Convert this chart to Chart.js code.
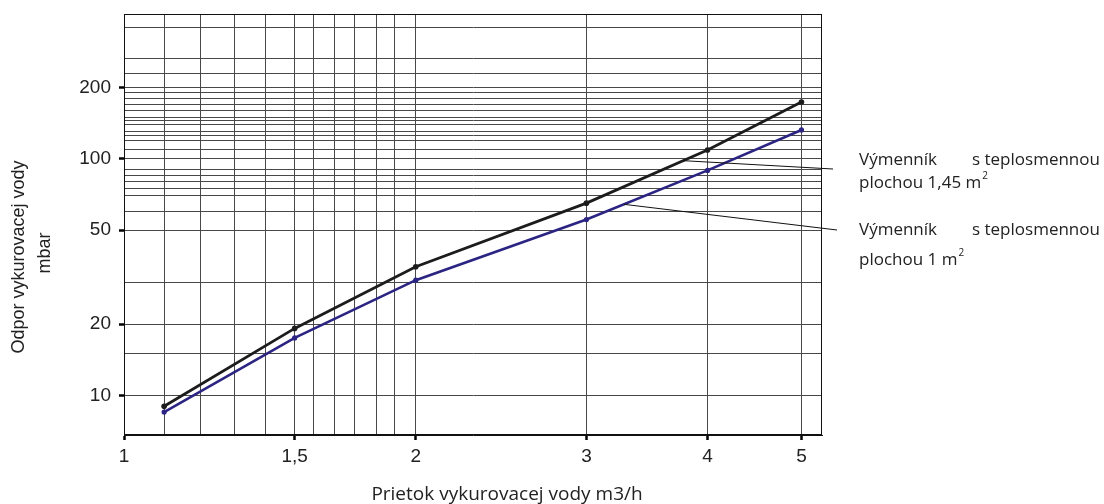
<!DOCTYPE html>
<html lang="sk">
<head>
<meta charset="utf-8">
<title>Odpor vykurovacej vody</title>
<script src="https://cdn.jsdelivr.net/npm/chart.js@4.4.1/dist/chart.umd.min.js"></script>
<style>
  html, body { margin: 0; padding: 0; background: #fff; }
  #wrap { width: 1104px; height: 504px; position: relative; }
</style>
</head>
<body>
<div id="wrap"><canvas id="chart"></canvas></div>
<script>
// flow of heating water (m3/h)
const flowRates = [1.1, 1.5, 2, 3, 4, 5];
// pressure drop (mbar) for the two exchangers
const dropLarge = [9.0, 19.2, 35, 65, 109, 174];        // 1,45 m2
const dropSmall = [8.5, 17.5, 30.7, 55.4, 89.4, 132.6]; // 1 m2

// axes
const xTickValues = [1, 1.5, 2, 3, 4, 5];
const xTickLabels = ['1', '1,5', '2', '3', '4', '5'];
const xGridValues = [1, 1.1, 1.2, 1.3, 1.4, 1.5, 1.57, 1.65, 1.73, 1.82, 1.9, 2, 3, 4, 5];
const yTickValues = [10, 20, 50, 100, 200];
const yTickLabels = ['10', '20', '50', '100', '200'];
const yGridValues = [10, 15, 20, 30, 50, 60, 70, 75, 80, 85, 90, 100, 110, 120, 125, 130,
                     140, 145, 150, 160, 170, 180, 190, 200, 230, 265, 360];

const seriesNames = ['Výmenník s teplosmennou plochou 1,45 m²', 'Výmenník s teplosmennou plochou 1 m²'];

document.addEventListener('DOMContentLoaded', () => {
    Chart.defaults.font.family = '"Liberation Sans", Arial, sans-serif';
    Chart.defaults.color = '#222';

    const toPoints = (ys) => flowRates.map((x, i) => ({ x: x, y: ys[i] }));

    // frame, leader lines and the free text around the plot
    const textPlugin = {
        id: 'textPlugin',
        beforeDatasetsDraw(chart) {
            const { ctx, chartArea } = chart;
            const l = Math.round(chartArea.left) + 0.5;
            const t = Math.round(chartArea.top) + 0.5;
            const r = Math.round(chartArea.right) - 0.5;
            const b = Math.round(chartArea.bottom) - 0.5;
            ctx.save();
            ctx.strokeStyle = '#111';
            ctx.lineWidth = 1;
            ctx.strokeRect(l, t, r - l, b - t);
            ctx.restore();
        },
        afterDraw(chart) {
            const ctx = chart.ctx;
            ctx.save();

            // leader lines from the curves to the notes
            const leader = (dsIndex, frac, ex, ey) => {
                const pts = chart.getDatasetMeta(dsIndex).data;
                const a = pts[3], b = pts[4];
                ctx.moveTo(a.x + (b.x - a.x) * frac, a.y + (b.y - a.y) * frac);
                ctx.lineTo(ex, ey);
            };
            ctx.beginPath();
            ctx.strokeStyle = '#111';
            ctx.lineWidth = 1;
            leader(0, 0.8, 833, 169);
            leader(1, 0.31, 837, 230);
            ctx.stroke();

            ctx.fillStyle = '#222';
            ctx.textBaseline = 'middle';

            const note = (y1, y2, area) => {
                ctx.font = '17px "Open Sans"';
                ctx.textAlign = 'left';
                ctx.fillText('Výmenník', 859, y1);
                ctx.fillText('s teplosmennou', 972, y1);
                const txt = 'plochou ' + area + ' m';
                ctx.fillText(txt, 859, y2);
                const w = ctx.measureText(txt).width;
                ctx.font = '10px "Open Sans"';
                ctx.fillText('2', 859 + w + 1, y2 - 7);
            };
            note(160, 183, '1,45');
            note(230, 260, '1');

            // axis titles
            ctx.font = '19px "Open Sans"';
            ctx.textAlign = 'center';
            ctx.fillText('Prietok vykurovacej vody m3/h', 507, 495);

            ctx.font = '18px "Liberation Sans"';
            ctx.save();
            ctx.translate(19, 257);
            ctx.rotate(-Math.PI / 2);
            ctx.fillText('Odpor vykurovacej vody', 0, 0);
            ctx.restore();
            ctx.save();
            ctx.translate(45, 253);
            ctx.rotate(-Math.PI / 2);
            ctx.fillText('mbar', 0, 0);
            ctx.restore();

            ctx.restore();
        }
    };

    const gridColor = '#484848';

    new Chart(document.getElementById('chart'), {
        type: 'scatter',
        data: {
            datasets: [{
                label: seriesNames[0],
                data: toPoints(dropLarge),
                showLine: true,
                borderColor: '#1c1c1c',
                backgroundColor: '#1c1c1c',
                borderWidth: 2.8,
                pointRadius: 2.8,
                pointBorderWidth: 0
            }, {
                label: seriesNames[1],
                data: toPoints(dropSmall),
                showLine: true,
                borderColor: '#2b2482',
                backgroundColor: '#2b2482',
                borderWidth: 2.6,
                pointRadius: 2.6,
                pointBorderWidth: 0
            }]
        },
        options: {
            responsive: true,
            maintainAspectRatio: false,
            animation: false,
            layout: { padding: { top: 14, right: 282, left: 0, bottom: 0 } },
            plugins: {
                legend: { display: false },
                tooltip: { enabled: false }
            },
            scales: {
                x: {
                    type: 'logarithmic',
                    min: 1,
                    max: 5.25,
                    afterBuildTicks: (scale) => {
                        scale.ticks = xGridValues.map(v => ({ value: v }));
                    },
                    afterFit: (scale) => {
                        scale.height = 69;
                        scale.paddingLeft = 0;
                        scale.paddingRight = 0;
                    },
                    ticks: {
                        autoSkip: false,
                        maxRotation: 0,
                        padding: 5,
                        font: { size: 19 },
                        color: '#222',
                        callback: (value) => {
                            const i = xTickValues.indexOf(value);
                            return i >= 0 ? xTickLabels[i] : '';
                        }
                    },
                    grid: {
                        color: gridColor,
                        lineWidth: 1,
                        tickLength: 5,
                        tickWidth: 2.5,
                        tickColor: (c) => xTickValues.includes(c.tick && c.tick.value) ? '#000' : 'rgba(0,0,0,0)'
                    },
                    border: { color: '#111', width: 1 }
                },
                y: {
                    type: 'logarithmic',
                    min: 6.8,
                    max: 410,
                    afterBuildTicks: (scale) => {
                        scale.ticks = yGridValues.map(v => ({ value: v }));
                    },
                    afterFit: (scale) => {
                        scale.width = 124;
                        scale.paddingTop = 0;
                        scale.paddingBottom = 0;
                    },
                    ticks: {
                        autoSkip: false,
                        padding: 8,
                        font: { size: 19 },
                        color: '#222',
                        callback: (value) => {
                            const i = yTickValues.indexOf(value);
                            return i >= 0 ? yTickLabels[i] : '';
                        }
                    },
                    grid: {
                        color: gridColor,
                        lineWidth: 1,
                        tickLength: 5,
                        tickWidth: 2.5,
                        tickColor: (c) => yTickValues.includes(c.tick && c.tick.value) ? '#000' : 'rgba(0,0,0,0)'
                    },
                    border: { color: '#111', width: 1 }
                }
            }
        },
        plugins: [textPlugin]
    });
});
</script>
</body>
</html>
